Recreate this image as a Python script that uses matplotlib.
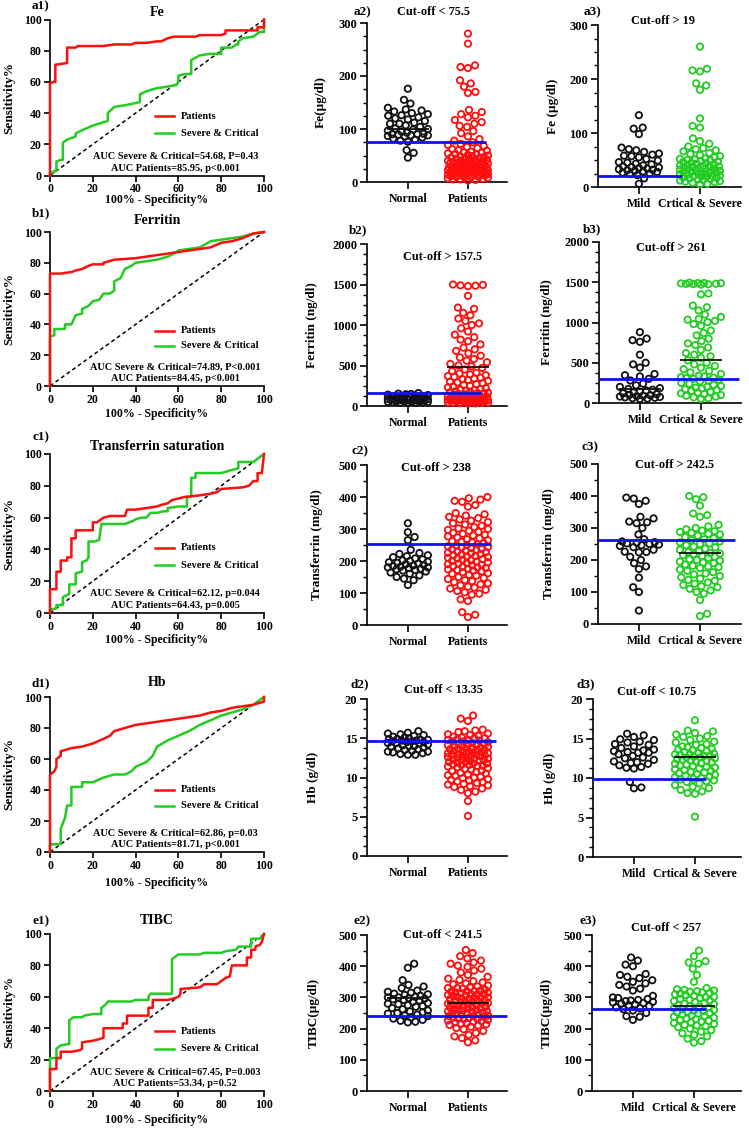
import numpy as np
import matplotlib
matplotlib.use("Agg")
import matplotlib.pyplot as plt
from matplotlib.ticker import MultipleLocator

# ------------------------------------------------------------------ data
roc_titles = ["Fe", "Ferritin", "Transferrin saturation", "Hb", "TIBC"]
roc_tags = ["a1)", "b1)", "c1)", "d1)", "e1)"]

roc_fe_patients = [(0,0),(0,59),(1.5,60),(2.5,60),(2.5,71),(7.5,72),(8,72),(8,82),(12,82),(13,83),(25,83),(30,84),(38,84),(40,85),(45,85),(50,86),(52,86),(55,88),(58,89),(68,89),(70,90),(80,90),(82,91),(82,93),(97,93),(97,95),(100,95),(100,100)]
roc_fe_severe = [(0,0),(0,2),(2,2),(2,3),(3,3),(3,9),(5,10),(6,10),(6,21),(8,23),(10,24),(12,25),(12,27),(15,29),(20,32),(27,35),(27,40),(30,44),(35,45),(42,47),(42,52),(45,54),(50,56),(55,57),(59,58),(60,60),(60,64),(63,65),(66,65),(66,74),(70,77),(75,78),(80,78),(80,82),(85,82),(87,84),(88,84),(88,86),(90,88),(95,89),(97,91),(98,92),(100,92),(100,100)]
roc_ferritin_patients = [(0,0),(0,73),(5,73),(10,74),(12,75),(15,76),(18,78),(20,79),(25,79),(25,80),(30,82),(40,83),(50,85),(55,86),(60,87),(65,88),(70,89),(75,90),(80,93),(85,94),(90,96),(95,99),(100,100)]
roc_ferritin_severe = [(0,0),(0,32),(2,33),(2,37),(7,37),(7,40),(10,40),(12,46),(15,47),(15,50),(18,52),(20,55),(23,56),(25,60),(28,60),(30,62),(30,68),(33,70),(35,76),(38,78),(40,80),(45,81),(50,82),(55,84),(58,86),(60,88),(65,89),(70,90),(75,94),(80,95),(85,96),(90,97),(95,99),(100,100)]
roc_tsat_patients = [(0,0),(0,15),(3,15),(3,26),(5,26),(5,33),(8,33),(8,35),(10,35),(10,47),(12,47),(12,52),(20,52),(20,57),(22,57),(23,58),(25,60),(28,61),(35,61),(36,65),(40,65),(45,66),(50,67),(52,68),(55,69),(57,71),(60,72),(63,73),(70,74),(75,75),(78,76),(80,78),(90,79),(93,80),(95,83),(97,83),(97,88),(99,88),(100,100)]
roc_tsat_severe = [(0,0),(0,2),(3,3),(3,5),(6,5),(6,10),(9,12),(9,18),(12,18),(12,25),(15,26),(15,32),(17,33),(18,35),(18,45),(21,45),(23,46),(24,56),(35,56),(37,57),(39,58),(40,59),(43,60),(45,60),(47,63),(50,63),(53,64),(55,64),(55,66),(60,67),(64,67),(64,73),(66,73),(66,85),(68,85),(68,88),(80,88),(85,90),(88,91),(88,95),(95,95),(100,100)]
roc_hb_patients = [(0,0),(0,50),(2,52),(3,55),(3,60),(5,62),(5,65),(10,67),(15,68),(20,70),(25,73),(28,75),(30,78),(35,80),(40,82),(50,84),(60,86),(70,88),(75,90),(80,91),(85,93),(90,94),(95,95),(100,97),(100,100)]
roc_hb_severe = [(0,0),(0,5),(5,5),(5,15),(7,22),(8,30),(10,30),(10,42),(15,42),(15,45),(20,45),(25,48),(30,50),(35,50),(38,52),(40,55),(45,58),(48,62),(50,68),(55,72),(60,75),(65,78),(70,82),(75,85),(80,88),(85,90),(90,92),(95,95),(100,100)]
roc_tibc_patients = [(0,0),(0,14),(3,14),(3,21),(5,21),(5,25),(10,25),(14,26),(15,27),(15,31),(20,32),(23,33),(25,34),(25,40),(34,40),(34,43),(36,43),(36,48),(46,48),(46,53),(48,53),(48,58),(55,58),(58,59),(60,60),(61,62),(61,65),(70,66),(72,68),(78,68),(80,70),(82,72),(84,73),(85,80),(92,80),(92,85),(94,85),(94,90),(96,90),(96,92),(98,93),(99,95),(100,100)]
roc_tibc_severe = [(0,0),(0,21),(3,21),(3,27),(5,29),(9,30),(9,45),(11,47),(15,47),(16,48),(20,49),(24,49),(24,53),(26,55),(27,57),(38,57),(40,58),(46,58),(46,60),(47,62),(57,62),(57,84),(60,87),(70,87),(72,88),(80,88),(82,89),(87,90),(88,92),(94,92),(94,97),(98,97),(100,100)]

auc_severe = ["AUC Severe & Critical=54.68, P=0.43", "AUC Severe & Critical=74.89, P<0.001",
              "AUC Severe & Critical=62.12, p=0.044", "AUC Severe & Critical=62.86, p=0.03",
              "AUC Severe & Critical=67.45, P=0.003"]
auc_patients = ["AUC Patients=85.95, p<0.001", "AUC Patients=84.45, p<0.001",
                "AUC Patients=64.43, p=0.005", "AUC Patients=81.71, p<0.001",
                "AUC Patients=53.34, p=0.52"]
legend_labels = ["Patients", "Severe & Critical"]

groups_mid = ["Normal", "Patients"]
groups_right = ["Mild", "Crtical & Severe"]
tags_mid = ["a2)", "b2)", "c2)", "d2)", "e2)"]
tags_right = ["a3)", "b3)", "c3)", "d3)", "e3)"]
cutoff_mid = ["Cut-off < 75.5", "Cut-off > 157.5", "Cut-off > 238", "Cut-off < 13.35", "Cut-off < 241.5"]
cutoff_right = ["Cut-off > 19", "Cut-off > 261", "Cut-off > 242.5", "Cut-off < 10.75", "Cut-off < 257"]
cutline_mid = [75, 155, 253, 14.6, 240]
cutline_right = [20, 300, 261, 9.9, 263]
ylabels_mid = ["Fe(µg/dl)", "Ferritin (ng/dl)", "Transferrin (mg/dl)", "Hb (g/dl)", "TIBC(µg/dl)"]
ylabels_right = ["Fe (µg/dl)", "Ferritin (ng/dl)", "Transferrin (mg/dl)", "Hb (g/dl)", "TIBC(µg/dl)"]
ymax = [300, 2000, 500, 20, 500]
ymajor = [100, 500, 100, 5, 100]
yminor = [25, 125, 50, 1.25, 50]
mean_mid = [(100, None), (None, 480), (None, None), (None, None), (297, 282)]
mean_right = [(None, None), (178, 530), (None, 222), (None, 12.6), (None, 272)]

fe_normal = [176,155,148,140,137,135,133,130,128,126,125,122,120,118,115,112,110,110,107,104,101,100,99,97,95,93,91,90,90,89,88,88,87,86,84,82,80,78,76,60,55,46]
fe_patients = [280,261,220,217,215,192,186,180,170,168,136,132,128,125,122,117,113,110,106,104,96,92,86,81,78,75,72,70,68,66,64,62,60,59,57,56,55,54,53,52,51,50,49,48,47,46,45,45,44,43,42,41,40,40,39,38,38,37,36,36,35,35,34,33,33,32,32,31,30,30,30,29,29,28,28,27,27,26,26,25,25,25,24,24,23,23,22,22,21,21,20,20,19,19,18,18,17,17,16,15,15,14,14,13,12,12,11,10,10,9,8,8,7,6,5,5,4,3]
fe_mild = [133,110,108,98,73,70,68,65,62,60,58,57,55,52,49,46,45,43,42,40,38,37,36,35,34,33,32,31,30,29,28,27,25,24,22,16,6]
fe_severe = [260,219,216,214,192,188,180,127,113,110,90,85,80,75,72,70,68,66,63,61,59,57,55,53,52,51,50,49,48,47,46,45,44,43,42,41,40,39,38,38,37,36,35,34,34,33,32,31,30,30,29,28,28,27,26,25,25,24,23,22,21,20,20,19,18,17,16,15,14,13,12,11,10,9,8,6,5]

ferritin_normal = [160,152,148,145,140,135,130,125,120,115,110,105,100,97,95,92,90,88,85,82,80,78,75,72,70,68,65,62,60,58,55,52,50,48,45,42,40,38]
ferritin_patients = [1500,1495,1490,1485,1480,1360,1215,1200,1150,1120,1080,1050,1020,1000,960,920,880,850,820,800,760,720,700,680,650,620,600,580,560,540,520,500,490,470,450,430,410,400,390,380,370,360,350,340,330,320,310,300,290,280,270,260,250,240,230,220,210,200,195,190,180,175,170,165,160,155,150,145,140,135,130,125,120,115,110,105,100,98,95,92,90,88,85,82,80,78,75,72,70,68,65,62,60,58,55,52,50,48,45,42,40,38,35,32,30]
ferritin_mild = [880,800,780,760,600,500,480,440,360,345,330,300,280,240,220,200,185,175,165,155,140,130,120,110,100,95,90,85,80,75,70,65,60,55,50]
ferritin_severe = [1495,1490,1490,1488,1485,1482,1480,1478,1475,1470,1360,1350,1210,1190,1150,1100,1070,1045,1035,1020,1005,980,960,900,870,840,800,770,740,720,690,660,620,600,580,560,530,500,480,460,440,420,400,380,360,340,330,320,315,310,300,290,280,270,250,240,225,210,200,190,180,170,160,150,140,130,120,110,100,90,80,70,60,50]

transferrin_normal = [318,290,275,265,235,225,222,218,215,212,208,205,202,200,198,196,194,192,190,188,186,184,182,180,180,178,176,174,172,170,167,164,160,155,150,145,140,125]
transferrin_patients = [400,396,392,388,385,375,370,350,346,342,338,334,330,326,322,318,314,310,306,302,300,297,294,291,288,285,282,280,277,274,271,268,265,262,260,258,255,252,250,248,246,244,242,240,238,236,234,232,230,228,226,224,222,220,218,216,214,212,210,208,206,204,202,200,198,196,194,192,190,188,186,184,182,180,178,176,174,172,170,168,165,162,160,157,154,150,147,144,140,137,134,130,127,124,120,117,114,110,106,102,98,95,80,75,40,32,25]
transferrin_mild = [395,392,385,375,335,330,320,318,315,300,280,265,258,256,254,252,250,248,246,244,240,232,226,225,224,210,200,190,180,172,145,115,100,42]
transferrin_severe = [400,396,390,370,345,340,335,310,305,300,296,292,290,288,285,282,280,276,272,268,265,262,258,255,252,250,246,242,240,236,232,228,225,222,220,218,215,212,210,206,202,200,198,195,192,190,186,182,180,178,175,170,166,162,158,155,150,146,142,138,135,130,126,122,118,115,110,105,100,95,75,32,25]

hb_normal = [15.9,15.7,15.6,15.5,15.4,15.3,15.2,15.1,15.0,14.9,14.9,14.8,14.8,14.7,14.7,14.6,14.6,14.5,14.5,14.4,14.4,14.3,14.2,14.1,14.0,14.0,13.9,13.8,13.7,13.6,13.5,13.4,13.3,13.3,13.2,13.1,13.0,12.9,12.9]
hb_patients = [17.9,17.5,17.2,16.1,16.0,15.9,15.8,15.6,15.5,15.4,15.3,15.2,15.1,15.0,15.0,14.9,14.8,14.8,14.7,14.6,14.6,14.5,14.4,14.3,14.2,14.1,14.0,14.0,13.9,13.8,13.8,13.7,13.6,13.5,13.5,13.4,13.3,13.2,13.2,13.1,13.0,13.0,12.9,12.8,12.8,12.7,12.6,12.5,12.5,12.4,12.3,12.2,12.2,12.1,12.0,12.0,11.9,11.8,11.7,11.6,11.6,11.5,11.4,11.3,11.2,11.1,11.0,10.9,10.8,10.7,10.6,10.5,10.4,10.3,10.2,10.1,10.0,9.9,9.8,9.7,9.6,9.5,9.4,9.3,9.2,9.1,9.0,8.9,8.8,8.6,8.4,8.2,8.0,7.0,5.1,13.6,13.3,13.1,12.9,12.7,12.4,12.1,11.8,11.5,14.3,14.1]
hb_mild = [15.6,15.4,15.2,14.9,14.8,14.6,14.5,14.3,14.2,14.0,13.8,13.6,13.5,13.4,13.3,13.2,13.2,13.0,12.8,12.6,12.5,12.3,12.1,12.0,11.9,11.8,11.6,11.4,11.3,11.2,9.5,8.8,8.7]
hb_severe = [17.3,16.0,15.9,15.7,15.5,15.3,15.2,15.0,14.8,14.6,14.5,14.3,14.2,14.0,13.9,13.8,13.7,13.6,13.5,13.4,13.3,13.2,13.1,13.0,12.9,12.8,12.8,12.7,12.6,12.5,12.4,12.3,12.2,12.1,12.0,11.9,11.8,11.7,11.6,11.5,11.4,11.3,11.2,11.1,11.0,10.9,10.8,10.7,10.6,10.5,10.4,10.3,10.2,10.1,10.0,9.9,9.8,9.7,9.6,9.5,9.3,9.1,8.9,8.7,8.5,8.3,8.1,8.0,5.1,13.0,12.6,12.2]

tibc_normal = [408,395,355,340,335,330,322,318,315,312,310,308,305,302,300,300,298,296,294,292,290,286,282,280,278,275,272,270,266,262,258,255,252,250,248,245,242,240,236,232,228,225,222,220]
tibc_patients = [452,442,432,425,418,412,408,402,398,392,386,380,372,366,360,356,352,348,345,342,338,335,332,330,328,325,322,320,318,316,314,312,310,308,306,304,302,300,298,296,294,292,290,288,286,284,282,280,278,276,274,272,270,268,266,264,262,260,258,256,254,252,250,248,246,244,242,240,238,236,234,232,230,228,226,224,222,220,218,216,214,212,210,206,202,198,192,186,180,175,170,162,156,330,320,310,300,290,280,270,260,250,240,230,315,295,275,255]
tibc_mild = [428,418,405,400,375,372,366,362,355,350,345,340,335,328,322,305,300,298,295,292,290,288,286,284,282,280,278,275,272,268,265,262,258,250,240,238,228]
tibc_severe = [450,432,416,412,408,392,372,350,330,326,324,322,320,318,316,314,312,310,308,305,302,300,298,295,292,290,288,285,282,280,278,275,272,270,268,265,262,260,258,256,254,252,250,248,245,242,240,238,235,232,230,228,225,222,220,218,215,212,210,208,205,200,195,190,185,180,175,168,160,155]

# ------------------------------------------------------------------ layout / style
W, H = 749, 1129
plt.rcParams['font.family'] = ['Liberation Serif', 'DejaVu Serif']
plt.rcParams['font.weight'] = 'bold'
plt.rcParams['axes.linewidth'] = 1.2
fig = plt.figure(figsize=(W / 100, H / 100), dpi=100)

RED = '#ff0d0d'
GREEN = '#22cc22'
BLUE = '#1111ee'
BLACK = '#111111'


def add_ax(l, r, t, b):
    return fig.add_axes([l / W, 1 - b / H, (r - l) / W, (b - t) / H])


def ftext(x, y, s, **kw):
    fig.text(x / W, 1 - y / H, s, fontweight='bold', **kw)


roc_data = [(roc_fe_patients, roc_fe_severe), (roc_ferritin_patients, roc_ferritin_severe),
            (roc_tsat_patients, roc_tsat_severe), (roc_hb_patients, roc_hb_severe),
            (roc_tibc_patients, roc_tibc_severe)]
dot_mid = [(fe_normal, fe_patients), (ferritin_normal, ferritin_patients),
           (transferrin_normal, transferrin_patients), (hb_normal, hb_patients),
           (tibc_normal, tibc_patients)]
dot_right = [(fe_mild, fe_severe), (ferritin_mild, ferritin_severe),
             (transferrin_mild, transferrin_severe), (hb_mild, hb_severe),
             (tibc_mild, tibc_severe)]

roc_rows = [(19.5, 175.5), (232, 386), (454, 613), (697, 852), (934, 1091)]
roc_tag_y = [6, 213, 437, 683, 921]
roc_title_y = [13, 221, 447, 683, 921]
roc_xlabel_y = [200, 414, 640, 883, 1120]
roc_leg_y = [(38, 27), (36, 26), (41, 30), (40, 30), (38, 27)]

mid_rows = [(23, 182), (244, 406), (465, 625), (699, 856), (935, 1091)]
right_rows = [(25, 187), (242, 403), (464, 624), (699, 857), (935, 1091)]
right_spine = [598, 599, 598, 593, 592]
mid_tag = [(362, 12), (358, 230), (360, 451), (360, 684), (362, 921)]
mid_cut = [(434, 12), (443, 257), (436, 468), (443, 690), (443, 935)]
right_tag = [(592, 12), (592, 229), (590, 447), (586, 684), (588, 921)]
right_cut = [(663, 21), (671, 248), (675, 465), (657, 692), (666, 928)]
mid_ylab_x = [321, 312, 317, 313, 314]
right_ylab_x = [553, 547, 549, 550, 547]
mid_line_end = [1.3, 1.22, 1.38, 1.47, 1.65]
right_line_end = [0.7, 1.62, 1.58, 1.18, 1.2]


def style_dot_axis(ax, i, labels):
    ax.spines['top'].set_visible(False)
    ax.spines['right'].set_visible(False)
    ax.set_ylim(0, ymax[i])
    ax.yaxis.set_major_locator(MultipleLocator(ymajor[i]))
    ax.yaxis.set_minor_locator(MultipleLocator(yminor[i]))
    ax.set_xticks([0, 1])
    ax.set_xticklabels(labels)
    ax.tick_params(axis='y', which='major', length=5, width=1.2, labelsize=9, pad=2)
    ax.tick_params(axis='y', which='minor', length=3, width=1.0)
    ax.tick_params(axis='x', length=5, width=1.2, labelsize=8.5, pad=3)
    for lab in ax.get_xticklabels() + ax.get_yticklabels():
        lab.set_fontweight('bold')


def swarm_x(ax, xc, vals, d=7.5, maxhalf=20.0):
    vals = np.asarray(vals, float)
    T = ax.transData
    ypx = T.transform(np.column_stack([np.full(len(vals), xc), vals]))[:, 1]
    unit = T.transform([[1, 0]])[0, 0] - T.transform([[0, 0]])[0, 0]
    order = np.argsort(ypx, kind='stable')
    px, py = [], []
    xs = np.zeros(len(vals))
    for k, i in enumerate(order):
        y = ypx[i]
        if px:
            ax_ = np.array(px)
            dy = np.abs(np.array(py) - y)
            m = dy < d
            nx, ndy = ax_[m], dy[m]
        else:
            nx, ndy = np.array([]), np.array([])
        half = np.sqrt(np.maximum(d * d - ndy ** 2, 0))
        cands = np.concatenate([[0.0], nx - half, nx + half])
        cands = cands[np.abs(cands) <= maxhalf + 1e-9]
        sgn = 1 if k % 2 == 0 else -1
        best = None
        for c in sorted(cands, key=lambda c: (round(abs(c), 3), sgn * c)):
            if len(nx) == 0 or np.all(np.abs(c - nx) >= half - 1e-6):
                best = c
                break
        if best is None:
            grid = np.linspace(-maxhalf, maxhalf, 39)
            score = [np.min((g - nx) ** 2 + ndy ** 2) - 1e-3 * abs(g) for g in grid]
            best = grid[int(np.argmax(score))]
        xs[i] = best
        px.append(best)
        py.append(y)
    return xc + xs / unit


def draw_dots(ax, groups, colors, means, cut, line_end):
    for j, (vals, col) in enumerate(zip(groups, colors)):
        xx = swarm_x(ax, j, vals)
        ax.scatter(xx, vals, s=21, facecolors='none', edgecolors=col,
                   linewidths=1.3, zorder=3, clip_on=False)
    for j, mv in enumerate(means):
        if mv is not None:
            ax.plot([j - 0.35, j + 0.35], [mv, mv], color=BLACK, lw=1.3, zorder=4,
                    solid_capstyle='butt')
    x0 = ax.get_xlim()[0]
    ax.plot([x0, line_end], [cut, cut], color=BLUE, lw=2.0, zorder=5,
            solid_capstyle='butt', clip_on=False)


for i in range(5):
    # ---------------- ROC
    t, b = roc_rows[i]
    ax = add_ax(50, 264, t, b)
    ax.set_xlim(0, 100)
    ax.set_ylim(0, 100)
    ax.spines['top'].set_visible(False)
    ax.spines['right'].set_visible(False)
    ax.xaxis.set_major_locator(MultipleLocator(20))
    ax.yaxis.set_major_locator(MultipleLocator(20))
    ax.tick_params(length=4, width=1.2, labelsize=8.5)
    ax.tick_params(axis='x', pad=1.5)
    ax.tick_params(axis='y', pad=2)
    for lab in ax.get_xticklabels() + ax.get_yticklabels():
        lab.set_fontweight('bold')
    ax.plot([0, 100], [0, 100], color='black', lw=1.1, dashes=(2.5, 2), zorder=2)
    pat, sev = roc_data[i]
    ax.plot([p[0] for p in sev], [p[1] for p in sev], color=GREEN, lw=1.8, zorder=3, clip_on=False)
    ax.plot([p[0] for p in pat], [p[1] for p in pat], color=RED, lw=1.8, zorder=4, clip_on=False)
    ly1, ly2 = roc_leg_y[i]
    ax.plot([49, 58], [ly1, ly1], color=RED, lw=1.8, clip_on=False)
    ax.plot([49, 58], [ly2, ly2], color=GREEN, lw=1.8, clip_on=False)
    ax.text(61, ly1, legend_labels[0], fontsize=7.5, fontweight='bold', va='center', ha='left')
    ax.text(61, ly2, legend_labels[1], fontsize=7.5, fontweight='bold', va='center', ha='left')
    ax.text(58.5, 12, auc_severe[i], fontsize=7.4, fontweight='bold', va='center', ha='center')
    ax.text(58.5, 4.8, auc_patients[i], fontsize=7.4, fontweight='bold', va='center', ha='center')
    ftext(41, roc_tag_y[i], roc_tags[i], fontsize=9.5, ha='center', va='center')
    ftext(157, roc_title_y[i], roc_titles[i], fontsize=10, ha='center', va='center')
    ftext(157, roc_xlabel_y[i], "100% - Specificity%", fontsize=8.5, ha='center', va='center')
    ftext(9, (t + b) / 2, "Sensitivity%", fontsize=9.5, ha='center', va='center', rotation=90)

    # ---------------- middle dot plot
    t, b = mid_rows[i]
    ax = add_ax(367, 507, t, b)
    ax.set_xlim(-0.68, 1.65)
    style_dot_axis(ax, i, groups_mid)
    draw_dots(ax, dot_mid[i], [BLACK, RED], mean_mid[i], cutline_mid[i], mid_line_end[i])
    ftext(*mid_tag[i], tags_mid[i], fontsize=9.5, ha='center', va='center')
    ftext(*mid_cut[i], cutoff_mid[i], fontsize=8.8, ha='center', va='center')
    ftext(mid_ylab_x[i], (t + b) / 2, ylabels_mid[i], fontsize=9.5, ha='center', va='center', rotation=90)

    # ---------------- right dot plot
    t, b = right_rows[i]
    sp = right_spine[i]
    ax = add_ax(sp, 741, t, b)
    ax.set_xlim(-0.67, (741 - (sp + 41)) / 61.0)
    style_dot_axis(ax, i, groups_right)
    draw_dots(ax, dot_right[i], [BLACK, GREEN], mean_right[i], cutline_right[i], right_line_end[i])
    ftext(*right_tag[i], tags_right[i], fontsize=9.5, ha='center', va='center')
    ftext(*right_cut[i], cutoff_right[i], fontsize=8.8, ha='center', va='center')
    ftext(right_ylab_x[i], (t + b) / 2, ylabels_right[i], fontsize=9.5, ha='center', va='center', rotation=90)

fig.savefig("out.png", dpi=100, facecolor='white')
